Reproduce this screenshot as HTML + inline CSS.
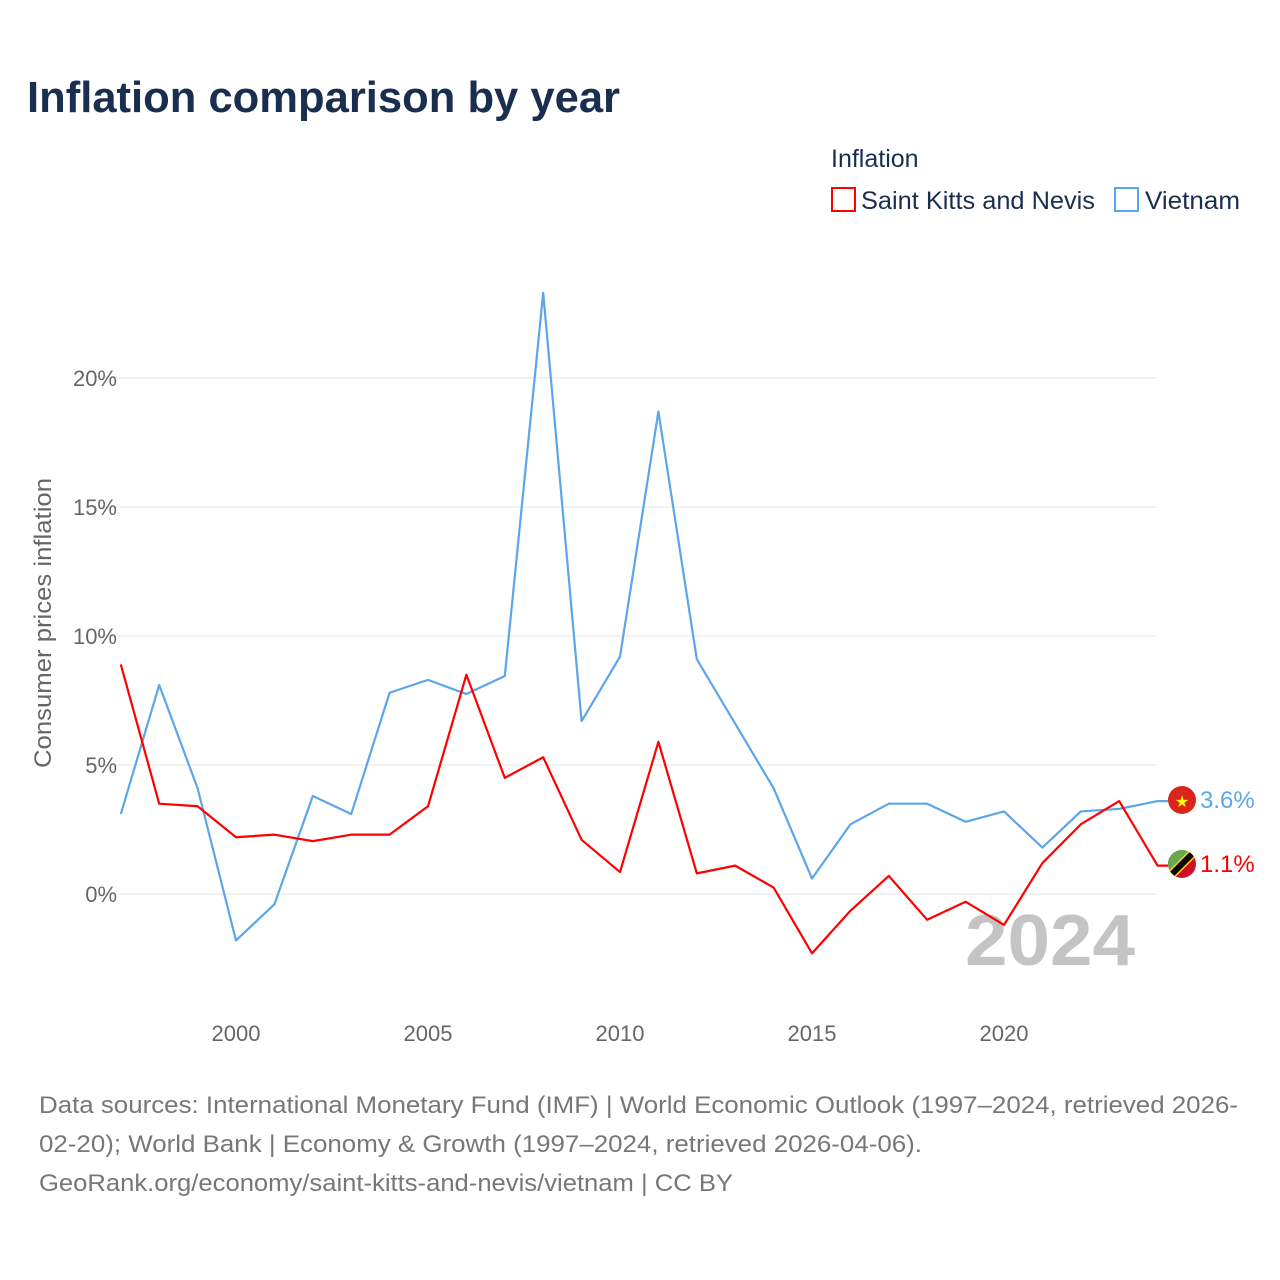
<!DOCTYPE html>
<html><head><meta charset="utf-8"><style>
body{margin:0;background:#fff;font-family:"Liberation Sans",sans-serif;}
#wrap{position:relative;width:1280px;height:1280px;overflow:hidden;}
</style></head><body>
<div id="wrap">
<svg id="svg" width="1280" height="1280" xmlns="http://www.w3.org/2000/svg">
<text x="27" y="112" font-size="44" font-weight="bold" fill="#1a2e4f" textLength="593" lengthAdjust="spacingAndGlyphs">Inflation comparison by year</text>
<text x="831" y="167" font-size="25" fill="#1a2e4f">Inflation</text>
<g><rect x="832" y="188" width="23" height="23" fill="none" stroke="#f00" stroke-width="2"/><text x="861" y="209" font-size="25" fill="#1a2e4f" textLength="234" lengthAdjust="spacingAndGlyphs">Saint Kitts and Nevis</text></g>
<g><rect x="1115" y="188" width="23" height="23" fill="none" stroke="#5da5ea" stroke-width="2"/><text x="1145" y="209" font-size="25" fill="#1a2e4f" textLength="95" lengthAdjust="spacingAndGlyphs">Vietnam</text></g>
<text transform="translate(51,623) rotate(-90)" text-anchor="middle" font-size="24" fill="#666" textLength="290" lengthAdjust="spacingAndGlyphs">Consumer prices inflation</text>
<text x="965" y="965" font-size="72" font-weight="bold" fill="#c4c4c4" textLength="170" lengthAdjust="spacingAndGlyphs">2024</text>
<g id="grid"></g><g id="lines"></g>
<g><circle cx="1182" cy="800" r="14" fill="#da251d"/><text x="1182" y="807" text-anchor="middle" font-size="16" fill="#ff0">★</text></g>
<g><clipPath id="c"><circle cx="1182" cy="864" r="14"/></clipPath><g clip-path="url(#c)"><rect x="1168" y="850" width="28" height="28" fill="#ce1126"/><polygon points="1168,850 1196,850 1168,878" fill="#6aa84f"/><line x1="1166" y1="880" x2="1198" y2="848" stroke="#fcd116" stroke-width="9"/><line x1="1166" y1="880" x2="1198" y2="848" stroke="#000" stroke-width="6"/></g></g>
<text x="1200" y="808" font-size="24" fill="#5da5ea">3.6%</text>
<text x="1200" y="872" font-size="24" fill="#f00">1.1%</text>
<g font-size="24" fill="#777">
<text x="39" y="1113" textLength="1199" lengthAdjust="spacingAndGlyphs">Data sources: International Monetary Fund (IMF) | World Economic Outlook (1997–2024, retrieved 2026-</text>
<text x="39" y="1152" textLength="883" lengthAdjust="spacingAndGlyphs">02-20); World Bank | Economy &amp; Growth (1997–2024, retrieved 2026-04-06).</text>
<text x="39" y="1191" textLength="694" lengthAdjust="spacingAndGlyphs">GeoRank.org/economy/saint-kitts-and-nevis/vietnam | CC BY</text>
</g>
</svg></div>
<script>
const years=[1997,1998,1999,2000,2001,2002,2003,2004,2005,2006,2007,2008,2009,2010,2011,2012,2013,2014,2015,2016,2017,2018,2019,2020,2021,2022,2023,2024];
const vietnam=[3.1,8.1,4.1,-1.8,-0.4,3.8,3.1,7.8,8.3,7.75,8.45,23.3,6.7,9.2,18.7,9.1,6.6,4.1,0.6,2.7,3.5,3.5,2.8,3.2,1.8,3.2,3.3,3.6];
const skn=[8.9,3.5,3.4,2.2,2.3,2.05,2.3,2.3,3.4,8.5,4.5,5.3,2.1,0.85,5.9,0.8,1.1,0.25,-2.3,-0.65,0.7,-1.0,-0.3,-1.2,1.2,2.7,3.6,1.1];
const yTicks=[0,5,10,15,20];
const xTicks=[2000,2005,2010,2015,2020];
const NS="http://www.w3.org/2000/svg";
const xs=y=>236+(y-2000)*38.4;
const ys=v=>894-v*25.8;
const grid=document.getElementById('grid'),lines=document.getElementById('lines');
function mk(t,a,p){const e=document.createElementNS(NS,t);for(const k in a)e.setAttribute(k,a[k]);p.appendChild(e);return e;}
yTicks.forEach(v=>{
const l=mk('line',{x1:100,x2:1157,y1:ys(v),y2:ys(v),stroke:'#e6e6e6','stroke-width':1},grid);


const t=mk('text',{x:117,y:ys(v)+8,'text-anchor':'end','font-size':22,fill:'#666'},grid);
t.textContent=v+'%';


});
xTicks.forEach(y=>{
const t=mk('text',{x:xs(y),y:1041,'text-anchor':'middle','font-size':22,fill:'#666'},grid);
t.textContent=y;


});
function series(vals,color,name){
let pts=vals.map((v,i)=>xs(years[i])+','+ys(v));
pts.push('1168,'+ys(vals[vals.length-1]));
const p=mk('polyline',{points:pts.join(' '),fill:'none',stroke:color,'stroke-width':2.2,'stroke-linejoin':'round'},lines);


}
series(vietnam,'#5da5ea','vietnam-line');
series(skn,'#f00','saint-kitts-line');
</script>
</body></html>
